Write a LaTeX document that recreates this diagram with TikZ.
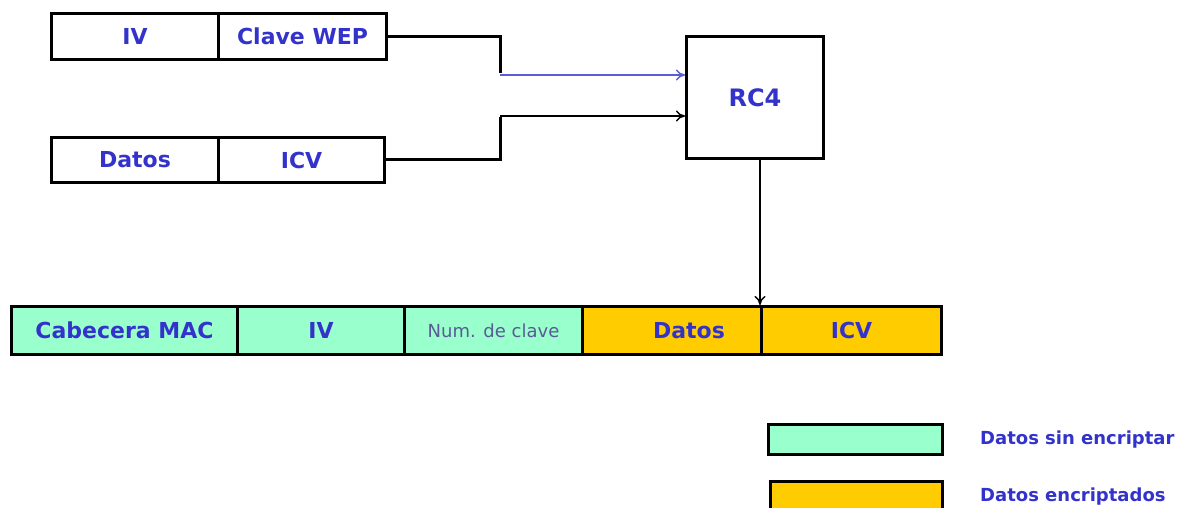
\documentclass[tikz,border=0pt]{standalone}
\usepackage{fontspec}
\setmainfont{DejaVu Sans}
\usetikzlibrary{arrows.meta}
\definecolor{txtblue}{HTML}{3333CC}
\definecolor{numgrey}{HTML}{5A5A96}
\definecolor{aqua}{HTML}{99FFCC}
\definecolor{gold}{HTML}{FFCC00}
\tikzset{
  cell/.style={draw=black, line width=3pt, inner sep=0pt, text=txtblue,
    font=\bfseries\fontsize{22}{26}\selectfont, anchor=north west},
  wire/.style={line width=3pt, line join=miter},
  feed/.style={line width=1.4pt, -{To[length=9pt,width=11pt,line width=1.4pt]}},
  legtext/.style={text=txtblue, font=\bfseries\fontsize{18}{21}\selectfont, anchor=west, inner sep=0pt}
}
\begin{document}
\begin{tikzpicture}[x=1pt,y=-1pt]
\useasboundingbox[fill=white] (0,0) rectangle (1187,508);
% top input boxes
\node[cell, minimum width=167pt, minimum height=46pt] (iv1) at (50,12) {IV};
\node[cell, minimum width=168pt, minimum height=46pt] (clave) at (217,12) {Clave WEP};
\node[cell, minimum width=167pt, minimum height=45pt] (datos1) at (50,136) {Datos};
\node[cell, minimum width=166pt, minimum height=45pt] (icv1) at (217,136) {ICV};
% RC4
\node[cell, minimum width=137pt, minimum height=122pt, font=\bfseries\fontsize{24}{28}\selectfont] (rc4) at (685,35) {RC4};
% junctions
\coordinate (j1) at (500,75);
\coordinate (j2) at (500,116);
\draw[wire] (clave.east) -| ([yshift=1.5pt]j1);
\draw[wire] (icv1.east) -| ([yshift=-1.5pt]j2);
\draw[feed, draw=txtblue!80] (j1) -- (rc4.west |- j1);
\draw[feed, draw=black] (j2) -- (rc4.west |- j2);
% bottom frame
\node[cell, fill=aqua, minimum width=226pt, minimum height=48pt] (mac) at (10,305) {Cabecera MAC};
\node[cell, fill=aqua, minimum width=167pt, minimum height=48pt] (riv) at (236,305) {IV};
\node[cell, fill=aqua, minimum width=178pt, minimum height=48pt, text=numgrey, font=\fontsize{18}{22}\selectfont] (num) at (403,305) {Num. de clave};
\node[cell, fill=gold, minimum width=179pt, minimum height=48pt] (rdatos) at (581,305) {\hspace*{34pt}Datos};
\node[cell, fill=gold, minimum width=180pt, minimum height=48pt] (ricv) at (760,305) {ICV};
% RC4 output
\draw[line width=1.6pt, -{To[length=9pt,width=11pt,line width=1.4pt]}] (rc4.south -| ricv.north west) -- (ricv.north west);
% legend
\node[cell, fill=aqua, minimum width=174pt, minimum height=30pt] (leg1) at (767,423) {};
\node[cell, fill=gold, minimum width=172pt, minimum height=34pt] (leg2) at (769,480) {};
\node[legtext] (lt1) at (980,440) {Datos sin encriptar};
\node[legtext] (lt2) at (980,497) {Datos encriptados};
\end{tikzpicture}
\end{document}
